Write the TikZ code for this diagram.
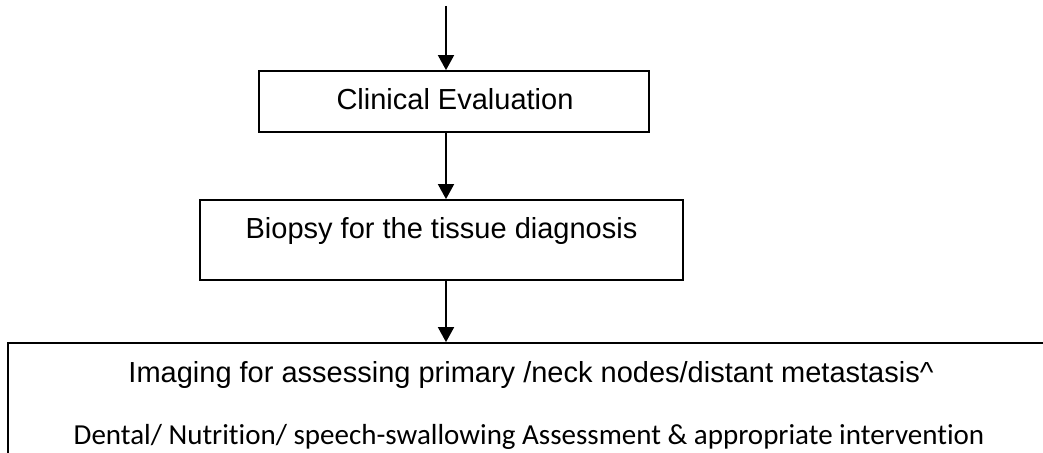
\documentclass[tikz,border=0pt]{standalone}
\usepackage{fontspec}
\setmainfont{Liberation Sans}
\newfontfamily\calibrifont[Ligatures=NoCommon]{Carlito}
\usetikzlibrary{arrows.meta}
\begin{document}
\begin{tikzpicture}[x=1pt,y=-1pt,
  box/.style={draw, line width=1.8pt, rectangle, inner sep=0pt},
  lbl/.style={anchor=base, inner sep=0pt, font=\fontsize{29}{35}\selectfont},
  arr/.style={line width=1.8pt, -{Triangle[width=16pt,length=15pt]}}]
  \useasboundingbox (0,0) rectangle (1043,452);
  \clip (0,0) rectangle (1043,452);

  % flow boxes
  \node[box, minimum width=390pt, minimum height=61pt] (clin) at (454,101.5) {};
  \node[box, minimum width=483pt, minimum height=80pt] (bio) at (441.5,240) {};
  \node[box, minimum width=1047pt, minimum height=127pt] (img) at (531.5,406.5) {};

  % box texts
  \node[lbl] (clinT) at (455,109.5) {Clinical Evaluation};
  \node[lbl] (bioT) at (441.5,238.5) {Biopsy for the tissue diagnosis};
  \node[lbl] (imgT) at (531,382) {Imaging for assessing primary /neck nodes/distant metastasis\^{}};
  \node[lbl, font=\calibrifont\fontsize{29}{35}\selectfont] (dentT) at (529,444.5)
    {Dental/ Nutrition/ speech-swallowing Assessment \& appropriate intervention};

  % connectors
  \coordinate (start) at (446,6);
  \draw[arr] (start) -- (start |- clin.north);
  \draw[arr] (start |- clin.south) -- (start |- bio.north);
  \draw[arr] (start |- bio.south) -- (start |- img.north);
\end{tikzpicture}
\end{document}
